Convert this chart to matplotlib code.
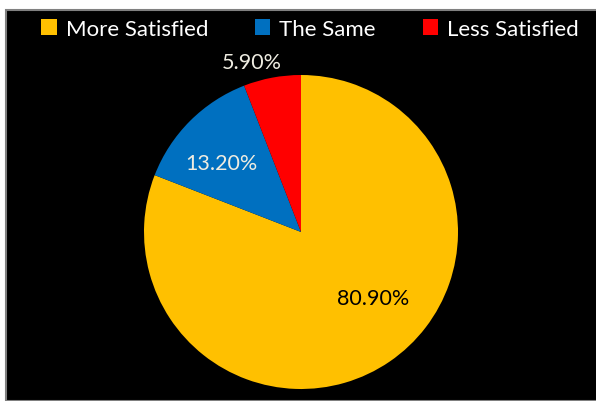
import numpy as np
import matplotlib.pyplot as plt
from matplotlib.patches import Rectangle, Patch

plt.rcParams['font.family'] = ['Lato', 'DejaVu Sans']

# Data
categories = ['More Satisfied', 'The Same', 'Less Satisfied']
values = [80.9, 13.2, 5.9]
colors = ['#FFC000', '#0070C0', '#FF0000']
label_colors = ['black', '#EEECE1', '#EEECE1']
# label placement: distance from centre (radius units) and angle shift from slice middle
label_dist = [0.62, 0.67, 1.13]
label_shift = [13, 4, 5.5]

W, H = 596, 402
fig = plt.figure(figsize=(W / 100, H / 100), dpi=100)
fig.patch.set_facecolor('white')

# black chart area with a grey frame
fig.patches.append(Rectangle((6 / W, 0), 1, 1 - 11 / H, transform=fig.transFigure,
                             facecolor='black', edgecolor='#808080', linewidth=1.5, zorder=-5))

# pie axes: centre (301, 233) px, radius 157 px
cx, cy, r = 301, 233, 157
ax = fig.add_axes([(cx - r) / W, (H - cy - r) / H, 2 * r / W, 2 * r / H])
ax.set_facecolor('none')
wedges, texts, autotexts = ax.pie(values, colors=colors, startangle=90, counterclock=False,
                                  radius=1, autopct='%.2f%%', textprops={'fontsize': 15.5})
ax.set_xlim(-1, 1)
ax.set_ylim(-1, 1)
ax.set_aspect('equal')
ax.axis('off')

for w, t, d, s, c in zip(wedges, autotexts, label_dist, label_shift, label_colors):
    ang = np.deg2rad((w.theta1 + w.theta2) / 2 + s)
    t.set_position((d * np.cos(ang), d * np.sin(ang)))
    t.set_color(c)
    t.set_clip_on(False)

handles = [Patch(facecolor=c, edgecolor='none') for c in colors]
leg = fig.legend(handles, categories, loc='center', bbox_to_anchor=(310 / W, 1 - 30 / H),
                 ncol=3, frameon=False, fontsize=16, handlelength=0.7, handleheight=0.7,
                 handletextpad=0.4, columnspacing=2.1)
for t in leg.get_texts():
    t.set_color('white')

fig.savefig('out.png', dpi=100, facecolor=fig.get_facecolor())
